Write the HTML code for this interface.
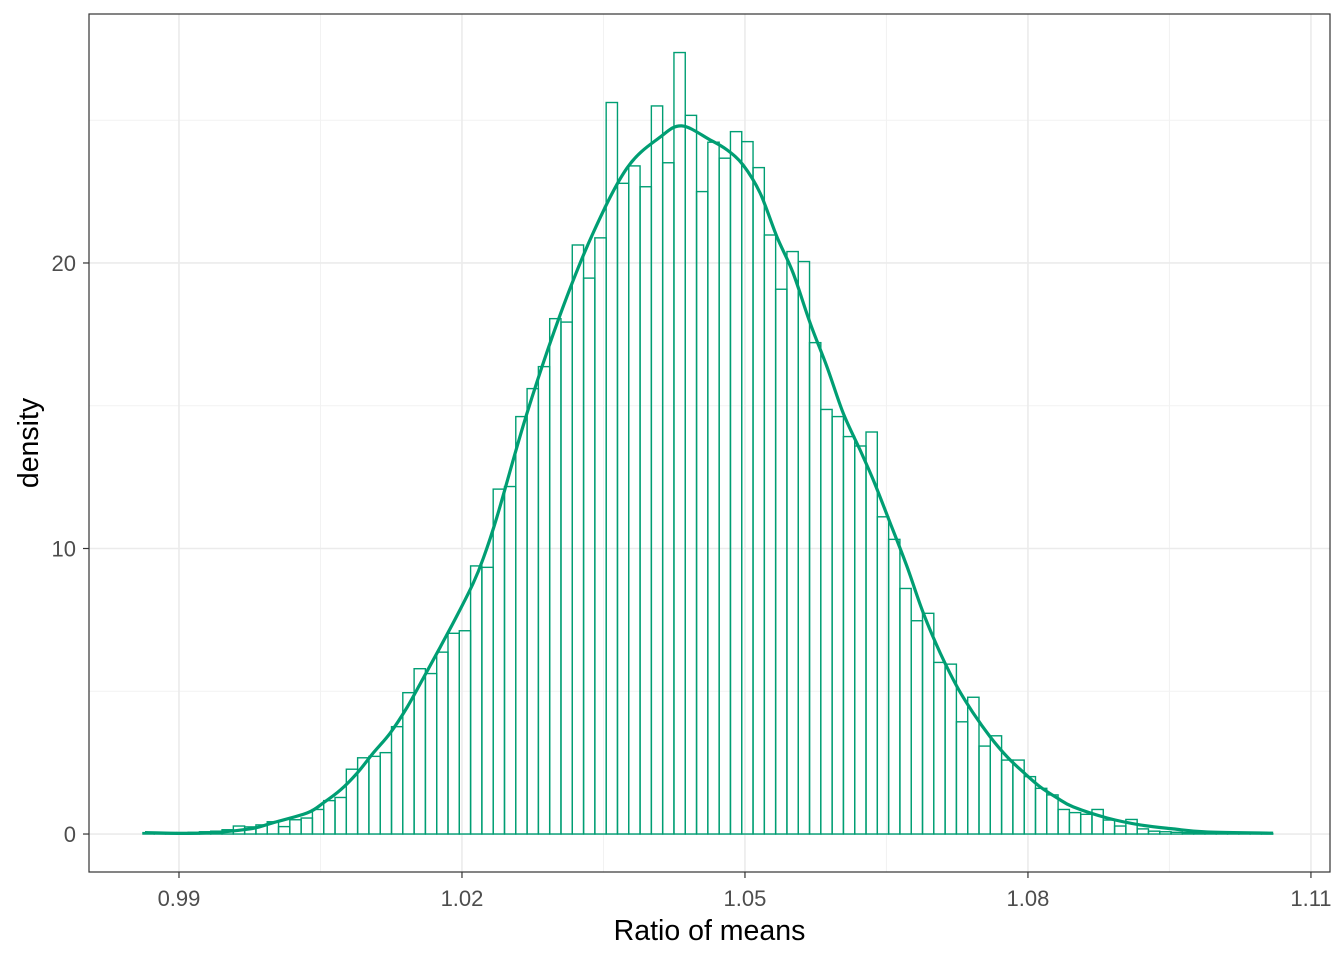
<!DOCTYPE html>
<html><head><meta charset="utf-8"><style>
html,body{margin:0;padding:0;background:#fff;}
svg{display:block;font-family:"Liberation Sans",sans-serif;}
</style></head><body>
<svg id="chart" width="1344" height="960"></svg>
<script>
const binStart = 0.98618;
const binWidth = 0.0011977;
const binHeights = [0.05,0.05,0.05,0.05,0.06,0.08,0.1,0.15,0.28,0.25,0.32,0.43,0.26,0.5,0.56,0.86,1.17,1.28,2.27,2.67,2.72,2.85,3.76,4.95,5.79,5.62,6.37,7.03,7.12,9.39,9.34,
12.08,12.17,14.62,15.6,16.37,18.05,17.93,20.63,19.47,20.88,25.62,22.79,23.4,22.67,25.5,23.51,27.37,25.17,22.5,24.23,23.67,24.6,24.25,23.34,20.98,19.08,20.4,20.05,17.21,14.87,14.62,13.92,13.59,14.08,11.11,
10.32,8.6,7.47,7.73,6.01,5.95,3.93,4.79,3.08,3.44,2.59,2.59,2.01,1.6,1.37,0.86,0.75,0.69,0.86,0.49,0.28,0.51,0.18,0.1,0.08,0.06,0.05,0.04,0.03,0.03,0.02,0.02,0.01,0.01];
const densX = [0.9864,0.9922,0.9975,0.9999,1.0036,1.0053,1.0071,1.0089,1.0106,1.0124,1.0142,1.0159,1.0177,1.0195,1.0212,1.0222,1.0237,1.0269,1.0304,1.0339,1.0375,1.0410,1.0433,1.0463,1.0481,1.0498,1.0516,1.0534,1.0551,1.0569,1.0587,1.0604,1.0622,1.0636,1.0654,1.0672,1.0689,1.0707,1.0725,1.0742,1.0760,1.0778,1.0795,1.0813,1.0831,1.0848,1.0884,1.0919,1.0954,1.0990,1.1060];
const densY = [0.05,0.03,0.18,0.39,0.74,1.09,1.54,2.14,2.84,3.54,4.45,5.46,6.55,7.67,8.79,9.60,11.10,14.75,18.18,21.05,23.33,24.41,24.80,24.31,23.96,23.43,22.45,20.91,19.65,17.90,16.36,14.75,13.45,12.40,10.89,9.35,7.74,6.34,5.15,4.24,3.40,2.70,2.17,1.65,1.26,0.95,0.56,0.32,0.18,0.07,0.03];
const xTicks = [0.99,1.02,1.05,1.08,1.11];
const xTickLabels = ["0.99","1.02","1.05","1.08","1.11"];
const xMinor = [1.005,1.035,1.065,1.095];
const yTicks = [0,10,20];
const yTickLabels = ["0","10","20"];
const yMinor = [5,15,25];

const NS="http://www.w3.org/2000/svg";
const svg=document.getElementById('chart');
const L=89,R=1330,T=14,B=872;
const xMin=0.98046,xMax=1.11202,yMin=-1.33,yMax=28.72;
const sx=v=>L+(v-xMin)/(xMax-xMin)*(R-L);
const sy=v=>B-(v-yMin)/(yMax-yMin)*(B-T);
function mk(tag,attrs,parent){const e=document.createElementNS(NS,tag);for(const k in attrs)e.setAttribute(k,attrs[k]);(parent||svg).appendChild(e);return e;}

const grid=mk('g',{});


xMinor.forEach(v=>{const l=mk('line',{x1:sx(v),x2:sx(v),y1:T,y2:B,stroke:'#f2f2f2','stroke-width':1},grid);});
yMinor.forEach(v=>{const l=mk('line',{x1:L,x2:R,y1:sy(v),y2:sy(v),stroke:'#f2f2f2','stroke-width':1},grid);});
xTicks.forEach(v=>{const l=mk('line',{x1:sx(v),x2:sx(v),y1:T,y2:B,stroke:'#ebebeb','stroke-width':1.6},grid);});
yTicks.forEach(v=>{const l=mk('line',{x1:L,x2:R,y1:sy(v),y2:sy(v),stroke:'#ebebeb','stroke-width':1.6},grid);});

const bars=mk('g',{});


binHeights.forEach((h,i)=>{
  const x0=sx(binStart+i*binWidth),x1=sx(binStart+(i+1)*binWidth);
  const r=mk('rect',{x:x0,y:sy(h),width:x1-x0,height:sy(0)-sy(h),fill:'none',stroke:'#009E73','stroke-width':1.4},bars);
  
  
});

const pts=densX.map((v,i)=>[sx(v),sy(densY[i])]);
let d='M'+pts[0][0].toFixed(1)+','+pts[0][1].toFixed(1);
for(let i=0;i<pts.length-1;i++){
  const p0=pts[Math.max(0,i-1)],p1=pts[i],p2=pts[i+1],p3=pts[Math.min(pts.length-1,i+2)];
  const c1=[p1[0]+(p2[0]-p0[0])/6,p1[1]+(p2[1]-p0[1])/6];
  const c2=[p2[0]-(p3[0]-p1[0])/6,p2[1]-(p3[1]-p1[1])/6];
  d+=' C'+c1[0].toFixed(1)+','+c1[1].toFixed(1)+' '+c2[0].toFixed(1)+','+c2[1].toFixed(1)+' '+p2[0].toFixed(1)+','+p2[1].toFixed(1);
}
const p=mk('path',{d:d,fill:'none',stroke:'#009E73','stroke-width':3.2,'stroke-linejoin':'round'});



const border=mk('rect',{x:L,y:T,width:R-L,height:B-T,fill:'none',stroke:'#333','stroke-width':1.2});



xTicks.forEach((v,i)=>{
  const t=mk('line',{x1:sx(v),x2:sx(v),y1:B,y2:B+6,stroke:'#333','stroke-width':1.2});
  
  
  const tx=mk('text',{x:sx(v),y:906,'text-anchor':'middle','font-size':22,fill:'#4d4d4d'});
  tx.textContent=xTickLabels[i];
  
  
});
yTicks.forEach((v,i)=>{
  const t=mk('line',{x1:L-6,x2:L,y1:sy(v),y2:sy(v),stroke:'#333','stroke-width':1.2});
  
  
  const tx=mk('text',{x:L-13,y:sy(v)+8,'text-anchor':'end','font-size':22,fill:'#4d4d4d'});
  tx.textContent=yTickLabels[i];
  
  
});
const xt=mk('text',{x:(L+R)/2,y:940,'text-anchor':'middle','font-size':28.5,fill:'#000'});
xt.textContent='Ratio of means';


const yt=mk('text',{x:0,y:0,'text-anchor':'middle','font-size':28.5,fill:'#000',transform:'translate(38,'+((T+B)/2)+') rotate(-90)'});
yt.textContent='density';


</script>
</body></html>
